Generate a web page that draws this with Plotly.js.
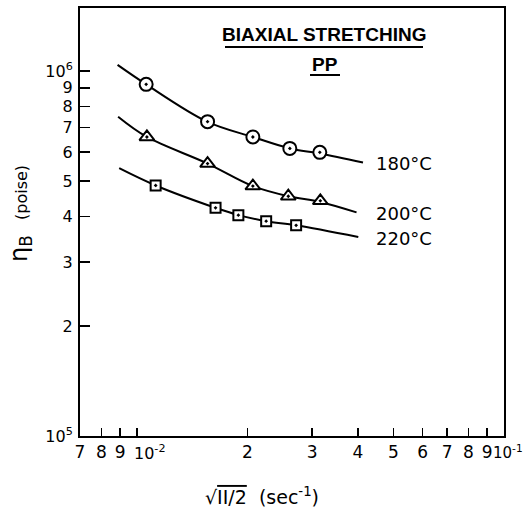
<!DOCTYPE html>
<html>
<head>
<meta charset="utf-8">
<script src="https://cdn.plot.ly/plotly-3.0.1.min.js"></script>
<style>html,body{margin:0;padding:0;background:#fff;}#chart{width:526px;height:508px;}</style>
</head>
<body>
<div id="chart"></div>
<script>
// ---- data ----
const x180 = [0.01060, 0.01558, 0.02070, 0.02610, 0.03150];
const y180 = [9.2e5, 7.27e5, 6.6e5, 6.14e5, 5.99e5];
const x200 = [0.01065, 0.01558, 0.02070, 0.02585, 0.03160];
const y200 = [6.6e5, 5.58e5, 4.84e5, 4.54e5, 4.41e5];
const x220 = [0.01125, 0.01638, 0.01890, 0.02250, 0.02715];
const y220 = [4.86e5, 4.22e5, 4.03e5, 3.88e5, 3.78e5];

// fitted curves
const cx180 = [0.00886, 0.01060, 0.01558, 0.02070, 0.02610, 0.03150, 0.04130];
const cy180 = [1.04e6, 9.2e5, 7.26e5, 6.6e5, 6.14e5, 5.95e5, 5.62e5];
const cx200 = [0.00889, 0.01065, 0.01558, 0.02070, 0.02585, 0.03160, 0.03966];
const cy200 = [7.5e5, 6.6e5, 5.58e5, 4.84e5, 4.54e5, 4.38e5, 4.1e5];
const cx220 = [0.00895, 0.01125, 0.01638, 0.01890, 0.02250, 0.02715, 0.04010];
const cy220 = [5.42e5, 4.86e5, 4.22e5, 4.03e5, 3.88e5, 3.78e5, 3.51e5];

const xTickVals = [0.007,0.008,0.009,0.01,0.02,0.03,0.04,0.05,0.06,0.07,0.08,0.09,0.1];
// decade labels are drawn right of their tick, as in the original figure
const xTickText = ['7','8','9','','2','3','4','5','6','7','8','9',''];
const xDecadeVals = [0.01, 0.1];
const xDecadeText = ['10<sup>-2</sup>','10<sup>-1</sup>'];
const yTickVals = [1e5,2e5,3e5,4e5,5e5,6e5,7e5,8e5,9e5,1e6];
const yTickText = ['10<sup>5</sup>','2','3','4','5','6','7','8','9','10<sup>6</sup>'];

const seriesLabels = ['180°C','200°C','220°C'];

// ---- layout helpers (pixel -> paper) ----
const L = 80, R = 504, T = 8, B = 436;
const px = x => (x - L) / (R - L);
const py = y => (B - y) / (B - T);
const XMIN = Math.log10(0.007), XMAX = -1;
const pxLog = v => (Math.log10(v) - XMIN) / (XMAX - XMIN);

const FONT = 'Liberation Sans Narrow, Liberation Sans, Arial, sans-serif';
const TFONT = 'DejaVu Sans, sans-serif';

function curve(x, y) {
  return {x: x, y: y, mode: 'lines', type: 'scatter', hoverinfo: 'skip', showlegend: false,
          line: {color: '#000', width: 2, shape: 'spline', smoothing: 1.0}};
}
function pts(x, y, sym, size) {
  return {x: x, y: y, mode: 'markers', type: 'scatter', showlegend: false,
          marker: {symbol: sym, size: size, color: '#fff', line: {color: '#000', width: 2}}};
}

const data = [
  curve(cx180, cy180), curve(cx200, cy200), curve(cx220, cy220),
  pts(x180, y180, 'circle-dot', 13),
  pts(x200, y200, 'triangle-up-dot', 13),
  pts(x220, y220, 'square-dot', 10)
];

const ann = (x, y, text, size, extra, fam) => Object.assign({
  xref: 'paper', yref: 'paper', x: px(x), y: py(y), text: text, showarrow: false,
  xanchor: 'center', yanchor: 'middle', font: {family: fam || FONT, size: size, color: '#000'}
}, extra || {});

const decadeAnns = [
  {xref: 'paper', yref: 'paper', x: pxLog(xDecadeVals[0]), y: py(452), text: xDecadeText[0], showarrow: false,
   xanchor: 'left', yanchor: 'middle', xshift: -5, font: {family: TFONT, size: 16, color: '#000'}},
  {xref: 'paper', yref: 'paper', x: px(525), y: py(452), text: xDecadeText[1], showarrow: false,
   xanchor: 'right', yanchor: 'middle', font: {family: TFONT, size: 15, color: '#000'}}
];

const layout = {
  width: 526, height: 508,
  margin: {l: L, r: 526 - R, t: T, b: 508 - B, pad: 0},
  paper_bgcolor: '#fff', plot_bgcolor: '#fff',
  showlegend: false,
  font: {family: TFONT, size: 16, color: '#000'},
  xaxis: {
    type: 'log', range: [XMIN, XMAX],
    tickvals: xTickVals, ticktext: xTickText, tickangle: 0,
    ticks: 'inside', ticklen: 8, tickwidth: 1.5, tickcolor: '#000',
    showline: true, linewidth: 2, linecolor: '#000', mirror: true,
    showgrid: false, zeroline: false,
    tickfont: {family: TFONT, size: 17, color: '#000'}
  },
  yaxis: {
    type: 'log', range: [5, 6.173],
    tickvals: yTickVals, ticktext: yTickText,
    ticks: 'inside', ticklen: 10, tickwidth: 1.5, tickcolor: '#000',
    showline: true, linewidth: 2, linecolor: '#000', mirror: true,
    showgrid: false, zeroline: false, ticklabelstandoff: 2,
    tickfont: {family: TFONT, size: 16, color: '#000'}
  },
  annotations: decadeAnns.concat([
    ann(324, 35, '<b>BIAXIAL STRETCHING</b>', 19),
    ann(325, 64, '<b>PP</b>', 19),
    ann(404, 163, seriesLabels[0], 18, null, TFONT),
    ann(404, 213, seriesLabels[1], 18, null, TFONT),
    ann(404, 238, seriesLabels[2], 18, null, TFONT),
    ann(20, 214, 'η<sub>B</sub>  <span style="font-size:16px">(poise)</span>', 24, {textangle: -90}, TFONT),
    ann(262, 496, '√<span style="text-decoration:overline">II/2</span>  (sec<sup>-1</sup>)', 19, null, TFONT)
  ]),
  shapes: [
    {type: 'line', xref: 'paper', yref: 'paper', x0: px(225), x1: px(423), y0: py(47), y1: py(47), line: {color: '#000', width: 2}},
    {type: 'line', xref: 'paper', yref: 'paper', x0: px(310), x1: px(340), y0: py(75), y1: py(75), line: {color: '#000', width: 2}}
  ]
};

Plotly.newPlot('chart', data, layout, {staticPlot: true, displayModeBar: false});
</script>
</body>
</html>
